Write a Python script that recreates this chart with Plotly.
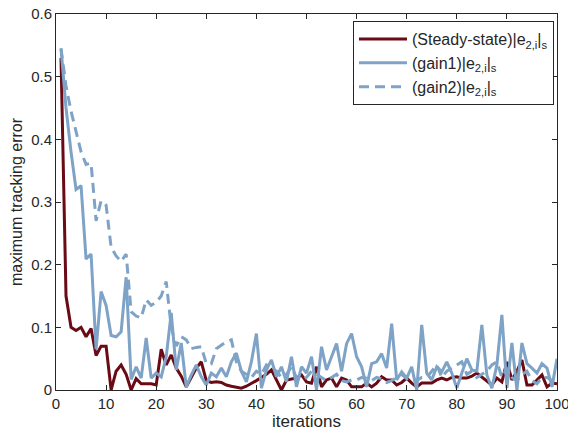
import plotly.graph_objects as go

iterations = list(range(1, 101))

steady = [0.53, 0.15, 0.10, 0.095, 0.10, 0.085, 0.098, 0.055, 0.07, 0.07,
          0.0, 0.03, 0.04, 0.025, 0.0, 0.018, 0.01, 0.01, 0.01, 0.008,
          0.065, 0.04, 0.056, 0.035, 0.022, 0.005, 0.02, 0.035, 0.045, 0.015,
          0.012, 0.013, 0.012, 0.008, 0.006, 0.004, 0.003, 0.006, 0.01, 0.015,
          0.02, 0.025, 0.032, 0.016, 0.0, 0.016, 0.018, 0.019, 0.024, 0.013,
          0.011, 0.037, 0.005, 0.016, 0.019, 0.005, 0.019, 0.016, 0.005, 0.005,
          0.005, 0.011, 0.005, 0.011, 0.021, 0.016, 0.016, 0.008, 0.012, 0.019,
          0.011, 0.005, 0.011, 0.011, 0.011, 0.016, 0.019, 0.016, 0.02, 0.021,
          0.019, 0.019, 0.022, 0.027, 0.021, 0.014, 0.008, 0.019, 0.013, 0.045,
          0.016, 0.03, 0.048, 0.008, 0.008, 0.016, 0.024, 0.005, 0.011, 0.01]

gain1 = [0.545, 0.45, 0.38, 0.32, 0.326, 0.209, 0.217, 0.065, 0.157, 0.135,
         0.087, 0.085, 0.093, 0.18, 0.017, 0.037, 0.019, 0.083, 0.019, 0.027,
         0.021, 0.053, 0.123, 0.032, 0.075, 0.005, 0.024, 0.04, 0.021, 0.008,
         0.027, 0.021, 0.035, 0.021, 0.045, 0.059, 0.03, 0.013, 0.045, 0.09,
         0.003, 0.032, 0.048, 0.021, 0.037, 0.013, 0.053, 0.005, 0.037, 0.027,
         0.053, 0.0, 0.069, 0.032, 0.053, 0.074, 0.03, 0.074, 0.09, 0.053,
         0.037, 0.005, 0.042, 0.045, 0.058, 0.035, 0.106, 0.016, 0.029, 0.019,
         0.037, 0.0, 0.104, 0.027, 0.016, 0.037, 0.029, 0.045, 0.027, 0.003,
         0.027, 0.05, 0.032, 0.03, 0.104, 0.024, 0.003, 0.04, 0.12, 0.003,
         0.075, 0.0, 0.075, 0.042, 0.035, 0.027, 0.042, 0.035, 0.005, 0.05]

gain2 = [0.545, 0.485, 0.445, 0.41, 0.38, 0.36, 0.362, 0.27, 0.302, 0.295,
         0.228, 0.214, 0.205, 0.217, 0.125, 0.118, 0.115, 0.144, 0.135, 0.14,
         0.15, 0.173, 0.10, 0.07, 0.085, 0.08, 0.066, 0.068, 0.069, 0.042,
         0.042, 0.066, 0.072, 0.077, 0.08, 0.045, 0.03, 0.025, 0.02, 0.03,
         0.025, 0.04, 0.035, 0.03, 0.02, 0.025, 0.037, 0.02, 0.015, 0.02,
         0.03, 0.025, 0.02, 0.015, 0.02, 0.025, 0.015, 0.013, 0.016, 0.016,
         0.02, 0.019, 0.015, 0.02, 0.018, 0.012, 0.015, 0.02, 0.025, 0.018,
         0.02, 0.015, 0.02, 0.02, 0.03, 0.04, 0.02, 0.03, 0.035, 0.04,
         0.045, 0.025, 0.03, 0.02, 0.025, 0.03, 0.04, 0.045, 0.02, 0.035,
         0.02, 0.015, 0.025, 0.03, 0.015, 0.01, 0.02, 0.02, 0.015, 0.01]

names = ["(Steady-state)|e<sub>2,i</sub>|<sub>s</sub>",
         "(gain1)|e<sub>2,i</sub>|<sub>s</sub>",
         "(gain2)|e<sub>2,i</sub>|<sub>s</sub>"]

red = "#6a0a14"
blue = "#7ea3c6"

fig = go.Figure()
fig.add_trace(go.Scatter(x=iterations, y=steady, mode="lines", name=names[0],
                         line=dict(color=red, width=3)))
fig.add_trace(go.Scatter(x=iterations, y=gain1, mode="lines", name=names[1],
                         line=dict(color=blue, width=3)))
fig.add_trace(go.Scatter(x=iterations, y=gain2, mode="lines", name=names[2],
                         line=dict(color=blue, width=3, dash="10px,6px")))

axis_common = dict(showline=True, linecolor="#262626", linewidth=1, mirror="ticks",
                   ticks="inside", ticklen=5, tickcolor="#262626", showgrid=False,
                   zeroline=False, automargin=False, ticklabeloverflow="allow",
                   tickfont=dict(size=15, color="#262626"))

fig.update_layout(
    width=568, height=440,
    margin=dict(l=56, r=11, t=14, b=50),
    paper_bgcolor="white", plot_bgcolor="white",
    font=dict(family="Liberation Sans, Arial, sans-serif", color="#262626"),
    xaxis=dict(range=[0, 100], dtick=10,
               title=dict(text="iterations", font=dict(size=17), standoff=4),
               **axis_common),
    yaxis=dict(range=[0, 0.6], dtick=0.1, tickformat="~g",
               title=dict(text="maximum tracking error", font=dict(size=16), standoff=4),
               **axis_common),
    legend=dict(x=0.994, y=0.981, xanchor="right", yanchor="top",
                bgcolor="white", bordercolor="#262626", borderwidth=1,
                font=dict(size=16, color="#262626"), tracegroupgap=0,
                itemwidth=48),
    showlegend=True,
)

fig.write_html("out.html",
               config={"displayModeBar": False},
               post_script="document.body.style.margin='0';document.body.style.overflow='hidden';")
